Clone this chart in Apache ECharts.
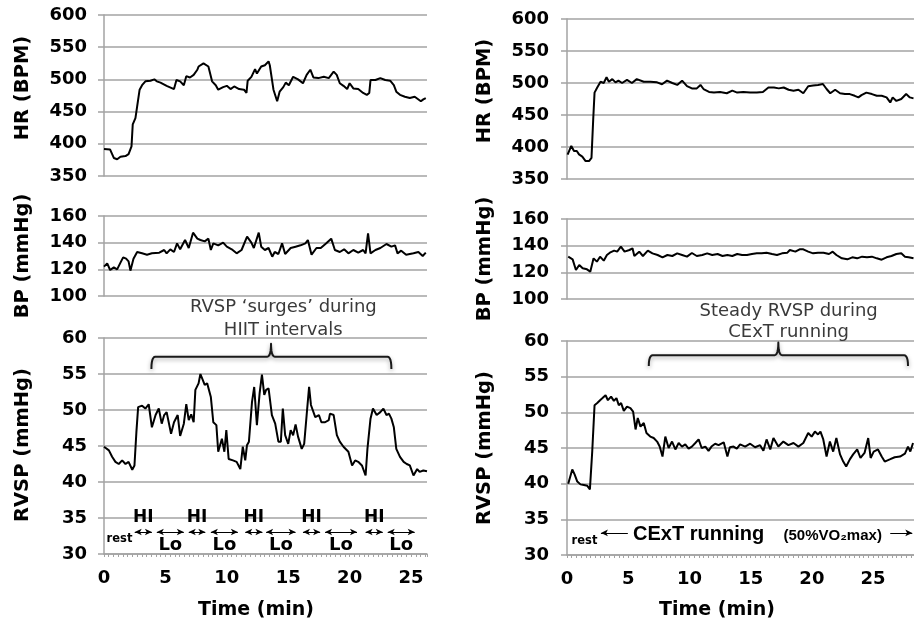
<!DOCTYPE html>
<html>
<head>
<meta charset="utf-8">
<script src="https://cdn.jsdelivr.net/npm/echarts@6/dist/echarts.min.js"></script>
<style>
  html, body { margin: 0; padding: 0; background: #fff; }
  #chart { width: 914px; height: 627px; }
</style>
</head>
<body>
<div id="chart"></div>
<script>
// ---- HIIT session: [time (min), value] ----
const hiitHR = [[0,392],[0.5,391],[0.8,378],[1.07,376],[1.34,380],[1.75,381],[2.0,384],[2.15,383],[2.24,396],[2.34,430],[2.56,440],[2.7,458],[2.9,484],[3.1,491],[3.37,497],[3.78,498],[4.1,500],[4.3,497],[4.6,495],[5.1,490],[5.7,485],[5.9,499],[6.2,497],[6.5,491],[6.7,505],[7.0,503],[7.3,507],[7.6,515],[7.7,520],[8.1,525],[8.5,520],[8.8,497],[9.1,491],[9.3,484],[9.7,488],[10.0,490],[10.3,485],[10.6,489],[11.0,485],[11.4,484],[11.6,479],[11.7,498],[12.0,504],[12.3,516],[12.45,509],[12.8,520],[13.1,522],[13.4,528],[13.5,522],[13.8,484],[14.1,466],[14.3,481],[14.6,488],[14.8,495],[15.05,491],[15.4,504],[15.8,500],[16.2,494],[16.5,507],[16.8,515],[17.05,503],[17.45,502],[17.9,504],[18.3,502],[18.7,512],[18.95,507],[19.2,494],[19.5,490],[19.8,485],[20.0,494],[20.3,486],[20.7,485],[21.1,479],[21.4,476],[21.6,479],[21.7,499],[22.1,499],[22.5,502],[22.9,499],[23.3,498],[23.6,491],[23.8,481],[24.1,476],[24.5,473],[24.9,471],[25.3,473],[25.8,466],[26.0,469],[26.2,471]];

const hiitBP = [[0,122],[0.26,124.5],[0.5,119.5],[0.8,121.5],[1.07,120],[1.34,125],[1.56,129],[1.8,128],[2.0,126],[2.15,119],[2.4,128],[2.7,133],[3.1,132],[3.5,131],[3.9,132],[4.5,132.5],[4.9,134.5],[5.1,132],[5.4,135],[5.7,133],[5.95,139.5],[6.2,135],[6.6,142],[6.9,136],[7.25,147.5],[7.6,143],[7.85,142],[8.2,141],[8.5,143],[8.7,134.5],[8.9,139.5],[9.3,138],[9.7,140],[10.0,137],[10.4,135],[10.8,132],[11.2,134.5],[11.65,144.5],[12.0,140],[12.2,136],[12.6,147.5],[12.8,137],[13.1,134.5],[13.4,136],[13.7,129.5],[13.9,133],[14.2,131.5],[14.5,139.5],[14.75,131.5],[15.2,136],[15.6,137],[16.0,138],[16.4,139.5],[16.6,142],[16.9,131],[17.3,136],[17.65,136],[18.1,139.5],[18.5,143],[18.8,134.5],[19.2,133],[19.55,135],[19.9,132],[20.3,134.5],[20.7,132.5],[21.1,134.5],[21.3,132],[21.5,147],[21.7,132],[22.1,134.5],[22.5,136],[23.0,139],[23.4,137],[23.7,138],[23.9,132],[24.2,134],[24.6,131],[25.2,132],[25.6,133],[25.95,130],[26.2,132.5]];

const hiitRVSP = [[0,44.9],[0.4,44.4],[0.66,43.5],[0.93,42.8],[1.2,42.5],[1.48,43.0],[1.75,42.5],[2.0,42.8],[2.3,41.7],[2.48,42.3],[2.64,47.0],[2.78,50.4],[3.1,50.6],[3.37,50.2],[3.64,50.8],[3.9,47.6],[4.2,49.3],[4.46,50.2],[4.7,48.1],[4.9,49.3],[5.1,49.7],[5.46,46.7],[5.7,48.3],[6.0,49.3],[6.2,46.4],[6.5,48.1],[6.7,50.8],[6.9,48.6],[7.1,49.4],[7.3,48.3],[7.44,52.8],[7.7,53.7],[7.85,55.0],[8.2,53.5],[8.4,53.7],[8.7,51.8],[8.9,48.3],[9.15,47.9],[9.3,44.2],[9.6,46.0],[9.8,44.2],[9.96,47.2],[10.15,43.2],[10.5,43.0],[10.8,42.8],[11.1,41.8],[11.3,44.9],[11.5,43.0],[11.64,45.1],[11.8,45.6],[12.05,51.1],[12.23,53.2],[12.45,47.9],[12.67,52.3],[12.86,54.9],[13.05,52.1],[13.2,52.8],[13.4,53.0],[13.67,49.3],[13.94,48.1],[14.2,45.6],[14.4,45.6],[14.56,50.2],[14.75,46.5],[15.0,45.3],[15.2,47.2],[15.4,46.5],[15.6,48.0],[15.8,46.3],[16.1,44.6],[16.3,45.3],[16.5,49.3],[16.7,53.2],[16.85,50.7],[17.2,49.0],[17.5,49.3],[17.7,48.3],[18.0,48.3],[18.3,48.6],[18.4,49.5],[18.7,49.3],[18.96,46.5],[19.2,45.6],[19.5,44.9],[19.9,44.2],[20.2,42.3],[20.45,43.0],[20.7,42.8],[21.0,42.3],[21.3,40.9],[21.45,44.6],[21.7,48.8],[21.9,50.2],[22.2,49.3],[22.5,49.7],[22.75,50.2],[23.0,49.3],[23.2,49.5],[23.4,48.8],[23.6,47.6],[23.8,44.6],[24.1,43.5],[24.4,42.8],[24.65,42.5],[24.9,42.3],[25.2,40.9],[25.5,41.8],[25.7,41.4],[26.0,41.6],[26.3,41.5]];

// ---- continuous running session ----
const cextHR = [[0.05,388],[0.16,388.5],[0.35,401.6],[0.57,393.7],[0.8,393.7],[0.98,388.5],[1.25,385],[1.52,378],[1.8,378],[2.0,383],[2.14,443],[2.25,485],[2.47,493],[2.74,502],[3.0,500],[3.23,509],[3.42,502],[3.7,506],[3.96,501],[4.2,503.7],[4.5,500],[4.9,505],[5.3,500],[5.7,506],[6.27,502],[6.8,502],[7.36,501],[7.76,498],[8.17,503.7],[8.6,500],[9.0,497],[9.4,503.7],[9.8,495],[10.2,491.6],[10.6,491.6],[10.9,497],[11.15,490.6],[11.6,486],[12.0,485],[12.5,486],[13.05,484],[13.5,488],[13.9,485],[14.4,486],[14.95,485],[15.5,485],[16.0,486],[16.45,493],[16.9,493],[17.3,491.6],[17.7,493],[18.1,489.5],[18.5,488],[18.9,489.5],[19.3,484],[19.7,495],[20.1,496],[20.5,497],[20.9,498.4],[21.2,490.6],[21.5,484],[21.9,489.5],[22.3,484],[22.7,482.7],[23.1,482.7],[23.5,480],[23.8,477.5],[24.05,481],[24.45,485],[24.9,482.7],[25.3,480],[25.7,480],[26.1,477.5],[26.4,469.6],[26.6,477.5],[26.9,472],[27.3,475],[27.7,482.7],[28.0,477.5],[28.3,476]];

const cextBP = [[0.1,131.75],[0.46,129.75],[0.73,121.75],[1.0,125.5],[1.28,123],[1.63,122.25],[1.9,120.5],[2.17,130.5],[2.44,128],[2.7,131.75],[3.0,128.75],[3.26,133],[3.5,134.75],[3.85,136.25],[4.1,135.5],[4.4,139.25],[4.7,135.5],[5.1,136.75],[5.35,138],[5.5,132.25],[5.9,135.5],[6.2,132.25],[6.6,136.25],[6.98,134.25],[7.4,133],[7.8,131.25],[8.2,133],[8.6,132.25],[9.0,134.25],[9.4,133],[9.8,131.75],[10.2,134.5],[10.6,132.25],[11.05,133],[11.45,134.25],[11.86,133],[12.3,133.75],[12.7,132.25],[13.1,133],[13.5,132.25],[13.9,133.75],[14.3,133],[14.7,133],[15.1,133.75],[15.5,134.25],[15.9,134.25],[16.3,134.75],[16.75,133.75],[17.15,133],[17.56,134.25],[18.0,134.75],[18.2,136.75],[18.65,135.5],[19.0,137.25],[19.3,137.25],[19.7,135.5],[20.1,134.25],[20.5,134.75],[20.95,134.75],[21.4,133.75],[21.7,135.5],[22.0,133],[22.45,130.5],[22.9,129.75],[23.3,131.25],[23.7,130.5],[24.1,131.75],[24.5,131.25],[24.9,131.75],[25.3,130.5],[25.7,129.5],[26.1,131.25],[26.5,132.25],[26.9,133.75],[27.3,134.25],[27.6,131.75],[27.9,131.25],[28.3,130.5]];

const cextRVSP = [[0.1,40.0],[0.24,39.9],[0.43,42.0],[0.62,41.3],[0.84,40.3],[1.1,39.9],[1.38,39.8],[1.66,39.7],[1.87,39.2],[2.06,44.5],[2.25,51.0],[2.47,51.3],[2.7,51.7],[2.9,52.0],[3.15,52.4],[3.34,51.7],[3.6,52.2],[3.83,51.6],[4.04,52.0],[4.23,51.0],[4.42,51.3],[4.64,50.2],[4.9,50.8],[5.18,50.6],[5.4,50.1],[5.6,47.6],[5.78,49.2],[6.0,48.0],[6.27,48.5],[6.49,47.1],[6.8,46.6],[7.08,46.4],[7.36,45.9],[7.57,45.2],[7.8,43.8],[8.03,46.6],[8.3,45.0],[8.58,45.9],[8.85,44.8],[9.12,45.7],[9.39,45.2],[9.66,45.5],[9.93,44.9],[10.2,45.2],[10.48,45.7],[10.75,46.2],[11.0,45.0],[11.3,45.2],[11.56,44.6],[11.8,45.2],[12.1,45.6],[12.38,45.4],[12.8,45.8],[13.1,43.8],[13.3,45.1],[13.6,45.2],[13.87,44.9],[14.14,45.5],[14.55,45.2],[14.96,45.6],[15.36,45.1],[15.77,45.4],[16.04,44.6],[16.3,46.2],[16.6,44.8],[16.86,46.4],[17.26,45.2],[17.67,45.9],[18.08,45.4],[18.5,45.7],[18.9,45.2],[19.3,45.7],[19.7,47.1],[19.98,46.6],[20.25,47.3],[20.5,46.9],[20.7,47.3],[20.93,46.2],[21.2,43.8],[21.47,45.9],[21.74,44.5],[22.0,46.4],[22.3,44.1],[22.56,43.1],[22.8,42.4],[23.1,43.4],[23.37,44.1],[23.7,44.8],[23.97,43.6],[24.3,44.3],[24.6,46.4],[24.8,43.6],[25.05,44.5],[25.4,44.8],[25.7,43.8],[25.95,43.1],[26.36,43.4],[26.76,43.7],[27.2,43.8],[27.6,44.2],[27.85,45.2],[28.04,44.5],[28.26,45.7]];

// ---- axis settings ----
const hiitTimeMax = 26.3;
const cextTimeMax = 28.34;
const hrRange = [350, 600, 50];
const bpRange = [100, 160, 20];
const rvspRange = [30, 60, 5];

// ---- protocol annotations (time in min) ----
const hiPhases = [[2.5, 3.9], [6.9, 8.25], [11.5, 12.9], [16.2, 17.6], [21.3, 22.7]];
const loPhases = [[4.3, 6.5], [8.7, 10.9], [13.2, 15.6], [18.0, 20.6], [23.1, 25.3]];
const hiitBrace = { from: 3.86, to: 23.4, mid: 13.6, base: 55.7, bar: 57.4, tip: 59.2 };
const cextBrace = { from: 6.68, to: 27.85, mid: 17.26, base: 56.5, bar: 58.0, tip: 59.8 };
const hiitNote = ['RVSP \u2018surges\u2019 during', 'HIIT intervals'];
const cextNote = ['Steady RVSP during', 'CExT running'];

const GRAY = '#a3a3a3';
const FONT = '"DejaVu Sans", sans-serif';

const grids = [
  { left: 104, top: 15,  width: 323, height: 161 },
  { left: 104, top: 216, width: 323, height: 80 },
  { left: 104, top: 338, width: 323, height: 216 },
  { left: 567, top: 19,  width: 347, height: 160 },
  { left: 567, top: 219, width: 347, height: 80 },
  { left: 567, top: 341, width: 347, height: 214 }
].map(g => Object.assign({ outerBoundsMode: 'none', containLabel: false }, g));

function yAxis(i, r, gap) {
  return {
    type: 'value', gridIndex: i, min: r[0], max: r[1], interval: r[2],
    axisLine: { show: true, lineStyle: { color: GRAY, width: 1.5 } },
    axisTick: { show: true, length: 6, lineStyle: { color: GRAY, width: 1.5 } },
    axisLabel: { show: true, color: '#000', fontFamily: FONT, fontWeight: 'bold', fontSize: 18, margin: gap },
    splitLine: { show: true, lineStyle: { color: GRAY, width: 1.5 } }
  };
}
function hiddenX(i, max) {
  return { type: 'value', gridIndex: i, min: 0, max: max, show: false };
}
function timeX(i, max) {
  return {
    type: 'value', gridIndex: i, min: 0, max: max, interval: 5,
    axisLine: { show: true, onZero: false, lineStyle: { color: GRAY, width: 1.5 } },
    axisTick: { show: true, length: 3, lineStyle: { color: GRAY, width: 1 } },
    minorTick: { show: true, splitNumber: 13, length: 3, lineStyle: { color: GRAY, width: 1 } },
    axisLabel: { show: true, color: '#000', fontFamily: FONT, fontWeight: 'bold', fontSize: 18, margin: 15, showMaxLabel: false },
    splitLine: { show: false }
  };
}
function line(i, data, extra) {
  return Object.assign({
    type: 'line', xAxisIndex: i, yAxisIndex: i, data: data,
    showSymbol: false, symbol: 'none', silent: true,
    lineStyle: { color: '#000', width: 2 }, z: 5
  }, extra || {});
}

const arrowY = 33.05;
const hiitArrows = hiPhases.concat(loPhases).map(p => [{ coord: [p[0], arrowY] }, { coord: [p[1], arrowY] }]);
const cextArrows = [
  [{ coord: [4.97, 33.1], symbol: 'none' }, { coord: [2.77, 33.1], symbol: 'arrow' }],
  [{ coord: [26.4, 33.1], symbol: 'none' }, { coord: [28.2, 33.1], symbol: 'arrow' }]
];
function arrows(data, sym) {
  return {
    silent: true, animation: false, symbol: sym, symbolSize: [5, 7],
    lineStyle: { color: '#000', width: 1, type: 'solid' },
    label: { show: false }, emphasis: { disabled: true }, data: data
  };
}

const chart = echarts.init(document.getElementById('chart'), null, { renderer: 'canvas' });
chart.setOption({
  backgroundColor: '#fff',
  animation: false,
  grid: grids,
  xAxis: [hiddenX(0, hiitTimeMax), hiddenX(1, hiitTimeMax), timeX(2, hiitTimeMax),
          hiddenX(3, cextTimeMax), hiddenX(4, cextTimeMax), timeX(5, cextTimeMax)],
  yAxis: [yAxis(0, hrRange, 17), yAxis(1, bpRange, 17), yAxis(2, rvspRange, 17),
          yAxis(3, hrRange, 18), yAxis(4, bpRange, 18), yAxis(5, rvspRange, 18)],
  series: [
    line(0, hiitHR), line(1, hiitBP),
    line(2, hiitRVSP, { markLine: arrows(hiitArrows, ['arrow', 'arrow']) }),
    line(3, cextHR), line(4, cextBP),
    line(5, cextRVSP, { markLine: arrows(cextArrows, ['none', 'arrow']) })
  ]
});

// ---- text and brace overlays placed through the axes ----
const P = (i, x, y) => chart.convertToPixel({ xAxisIndex: i, yAxisIndex: i }, [x, y]);

function text(x, y, str, font, fill, rotation) {
  return {
    type: 'text', x: x, y: y, rotation: rotation || 0, silent: true, z: 20,
    style: { text: str, font: font, fill: fill || '#000',
             textAlign: 'center', textVerticalAlign: 'middle', align: 'center', verticalAlign: 'middle' }
  };
}
// quadratic corner sampled into polyline points
function quad(pts, p0, c, p1) {
  for (let k = 1; k <= 6; k++) {
    const t = k / 6, u = 1 - t;
    pts.push([u * u * p0[0] + 2 * u * t * c[0] + t * t * p1[0], u * u * p0[1] + 2 * u * t * c[1] + t * t * p1[1]]);
  }
}
function braceAt(i, b) {
  const a = P(i, b.from, b.base), c = P(i, b.to, b.base);
  const yb = P(i, b.mid, b.bar)[1], top = P(i, b.mid, b.tip);
  const xm = top[0], r = 4;
  const pts = [a];
  quad(pts, a, [a[0], yb], [a[0] + r, yb]);
  pts.push([xm - r, yb]);
  quad(pts, [xm - r, yb], [xm, yb], [xm, top[1]]);
  quad(pts, [xm, top[1]], [xm, yb], [xm + r, yb]);
  pts.push([c[0] - r, yb]);
  quad(pts, [c[0] - r, yb], [c[0], yb], c);
  return {
    type: 'polyline', silent: true, z: 15, shape: { points: pts },
    style: { fill: null, stroke: '#1a1a1a', lineWidth: 2, lineJoin: 'round',
             shadowBlur: 4, shadowColor: 'rgba(0,0,0,0.35)', shadowOffsetY: 2 }
  };
}

const nameFont = 'bold 19.5px ' + FONT;
const noteFont = '18px ' + FONT;
const g = [];

// axis titles
g.push(text(23, 88, 'HR (BPM)', nameFont, '#000', Math.PI / 2));
g.push(text(23, 256, 'BP (mmHg)', nameFont, '#000', Math.PI / 2));
g.push(text(23, 445, 'RVSP (mmHg)', nameFont, '#000', Math.PI / 2));
g.push(text(485, 91, 'HR (BPM)', nameFont, '#000', Math.PI / 2));
g.push(text(485, 259, 'BP (mmHg)', nameFont, '#000', Math.PI / 2));
g.push(text(485, 448, 'RVSP (mmHg)', nameFont, '#000', Math.PI / 2));
g.push(text(256, 610, 'Time (min)', 'bold 19px ' + FONT));
g.push(text(717, 610, 'Time (min)', 'bold 19px ' + FONT));

// braces and notes
g.push(braceAt(2, hiitBrace));
g.push(braceAt(5, cextBrace));
let p = P(2, 14.6, 64.2); g.push(text(p[0], p[1], hiitNote[0], noteFont, '#3a3a3a'));
p = P(2, 14.6, 61.1);     g.push(text(p[0], p[1], hiitNote[1], noteFont, '#3a3a3a'));
p = P(5, 18.1, 64.2);     g.push(text(p[0], p[1], cextNote[0], noteFont, '#3a3a3a'));
p = P(5, 18.1, 61.26);    g.push(text(p[0], p[1], cextNote[1], noteFont, '#3a3a3a'));

// HIIT protocol labels
hiPhases.forEach(ph => { const q = P(2, (ph[0] + ph[1]) / 2, 35); g.push(text(q[0], q[1], 'HI', 'bold 17px ' + FONT)); });
loPhases.forEach(ph => { const q = P(2, (ph[0] + ph[1]) / 2, 31.25); g.push(text(q[0], q[1], 'Lo', 'bold 18px ' + FONT)); });
p = P(2, 1.26, 32.1); g.push(text(p[0], p[1], 'rest', 'bold 11.5px ' + FONT));

// continuous running labels
p = P(5, 1.43, 32.0);  g.push(text(p[0], p[1], 'rest', 'bold 11.5px ' + FONT));
p = P(5, 10.75, 32.9); g.push(text(p[0], p[1], 'CExT running', 'bold 20px "Liberation Sans", Arial, sans-serif'));
p = P(5, 21.7, 32.7);  g.push(text(p[0], p[1], '(50%VO\u2082max)', 'bold 15px "Liberation Sans", Arial, sans-serif'));

chart.setOption({ graphic: g });
</script>
</body>
</html>
